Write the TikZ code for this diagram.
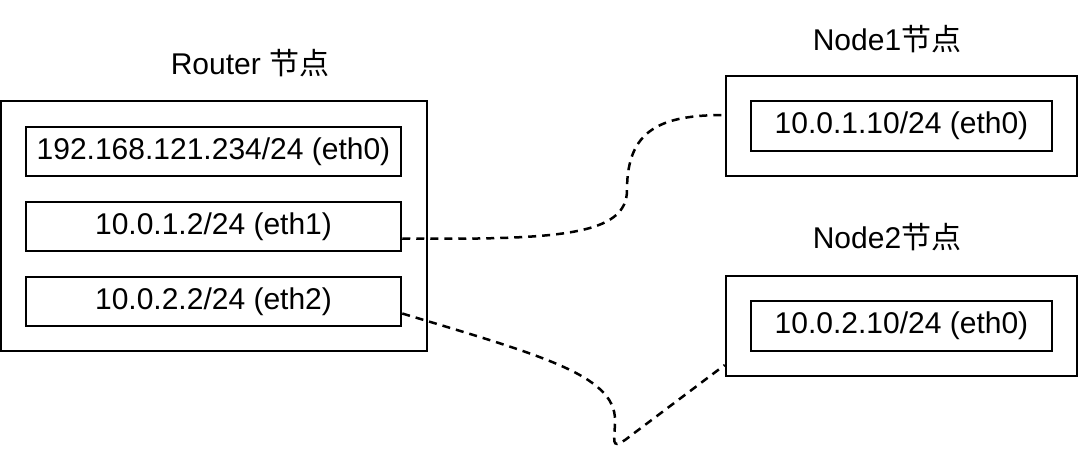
\documentclass[tikz,border=0pt]{standalone}
\usepackage{fontspec}
\usetikzlibrary{calc}
\setmainfont{Liberation Sans}
\newfontfamily\cjk{Noto Sans CJK SC}
\begin{document}
\begin{tikzpicture}[x=1pt,y=-1pt,
  box/.style={draw=black,line width=2.5pt,inner sep=0pt,
    font=\fontsize{30}{32}\selectfont},
  lbl/.style={inner sep=0pt,font=\fontsize{30}{32}\selectfont},
  link/.style={line width=2.5pt,dash pattern=on 8pt off 6pt}]
\useasboundingbox (0,0) rectangle (1080,450);
% Router
\node[box,minimum width=426pt,minimum height=250pt] (router) at (214,226) {};
\node[box,minimum width=375pt,minimum height=49pt] (r0) at (213.5,151.5) {192.168.121.234/24 (eth0)};
\node[box,minimum width=375pt,minimum height=49pt] (r1) at (213.5,226.5) {10.0.1.2/24 (eth1)};
\node[box,minimum width=375pt,minimum height=49pt] (r2) at (213.5,301.5) {10.0.2.2/24 (eth2)};
\node[lbl] (rlabel) at (250,63) {Router {\cjk 节点}};
% Node1
\node[box,minimum width=351pt,minimum height=100pt] (n1) at (901.5,126) {};
\node[box,minimum width=301pt,minimum height=50pt] (n1i) at (901.5,126) {10.0.1.10/24 (eth0)};
\node[lbl] (n1label) at (887,39) {Node1{\cjk 节点}};
% Node2
\node[box,minimum width=351pt,minimum height=100pt] (n2) at (901.5,326) {};
\node[box,minimum width=301pt,minimum height=50pt] (n2i) at (901.5,326) {10.0.2.10/24 (eth0)};
\node[lbl] (n2label) at (887,237) {Node2{\cjk 节点}};
% connection points
\coordinate (r1p) at ($(r1.east)+(0,12)$);
\coordinate (r2p) at ($(r2.east)+(0,12)$);
\coordinate (n1p) at ($(n1.west)+(0,-11)$);
\coordinate (n2p) at ($(n2.west)+(0,39)$);
% links
\draw[link] (r1p) .. controls (560,240) and (627,235) .. (627,190)
  .. controls (627,130) and (660,115) .. (n1p);
\draw[link] (r2p) .. controls (540,355) and (615,375) .. (615,420)
  .. controls (615,440) and (610,450) .. (625,440) -- (n2p);
\end{tikzpicture}
\end{document}
